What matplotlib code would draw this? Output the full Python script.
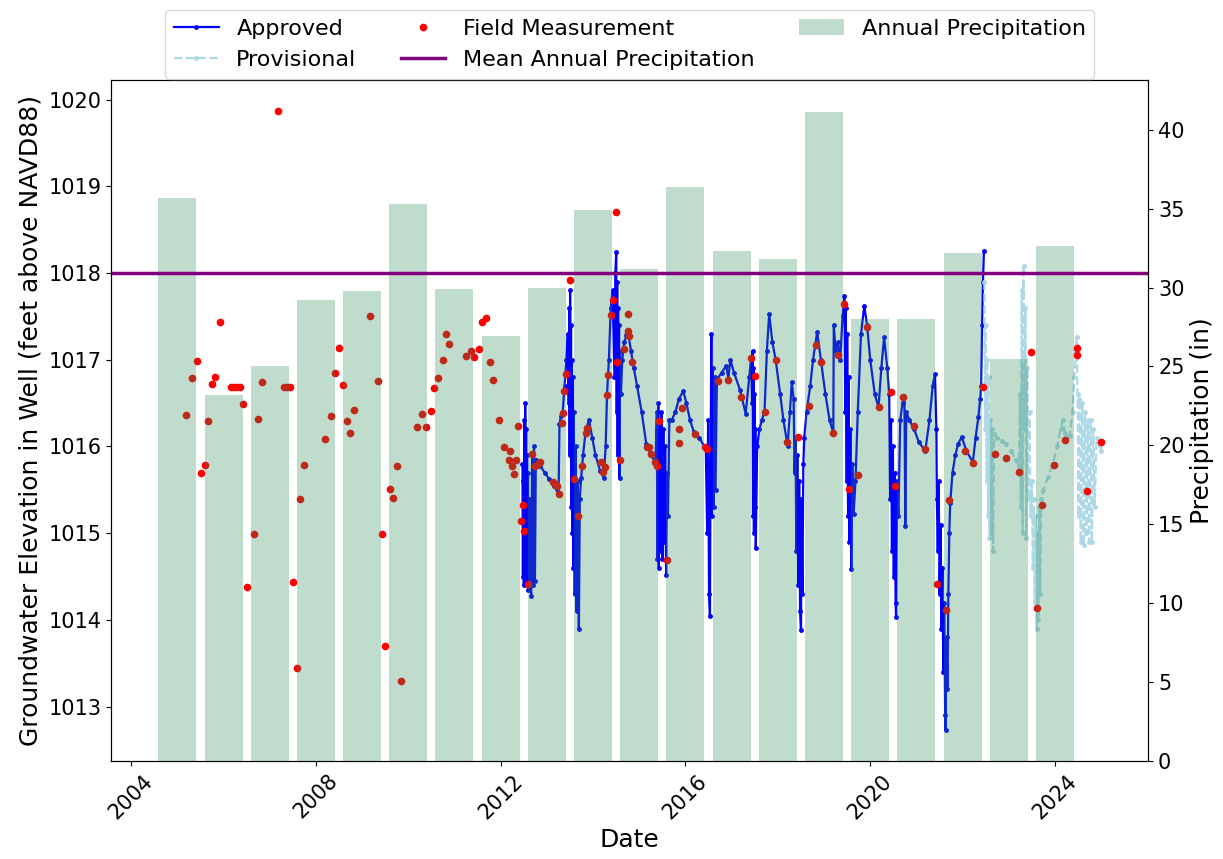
import numpy as np
import pandas as pd
import matplotlib
matplotlib.use('Agg')
import matplotlib.pyplot as plt
import matplotlib.dates as mdates

# --- data (decimal years / feet / inches) ---
approved_years = [
    2012.47, 2012.48, 2012.49, 2012.50, 2012.51, 2012.52, 2012.53, 2012.54, 2012.55, 2012.56,
    2012.57, 2012.58, 2012.59, 2012.60, 2012.62, 2012.64, 2012.66, 2012.68, 2012.70, 2012.72,
    2012.74, 2012.76, 2012.80, 2012.85, 2012.95, 2013.05, 2013.15, 2013.25, 2013.27, 2013.30,
    2013.34, 2013.38, 2013.42, 2013.45, 2013.47, 2013.48, 2013.49, 2013.50, 2013.51, 2013.52,
    2013.53, 2013.54, 2013.55, 2013.56, 2013.57, 2013.58, 2013.60, 2013.62, 2013.64, 2013.66,
    2013.69, 2013.71, 2013.74, 2013.78, 2013.84, 2013.91, 2013.98, 2014.05, 2014.15, 2014.23,
    2014.27, 2014.30, 2014.34, 2014.38, 2014.42, 2014.46, 2014.48, 2014.50, 2014.51, 2014.52,
    2014.53, 2014.54, 2014.55, 2014.56, 2014.57, 2014.58, 2014.60, 2014.63, 2014.67, 2014.72,
    2014.76, 2014.82, 2014.88, 2014.95, 2015.05, 2015.15, 2015.25, 2015.35, 2015.38, 2015.39,
    2015.41, 2015.42, 2015.44, 2015.46, 2015.48, 2015.50, 2015.52, 2015.54, 2015.56, 2015.58,
    2015.60, 2015.62, 2015.65, 2015.70, 2015.78, 2015.86, 2015.95, 2016.02, 2016.10, 2016.18,
    2016.30, 2016.44, 2016.47, 2016.49, 2016.51, 2016.53, 2016.54, 2016.56, 2016.57, 2016.59,
    2016.61, 2016.63, 2016.65, 2016.68, 2016.78, 2016.88, 2016.93, 2016.97, 2017.05, 2017.18,
    2017.30, 2017.38, 2017.42, 2017.44, 2017.45, 2017.46, 2017.47, 2017.48, 2017.49, 2017.50,
    2017.51, 2017.52, 2017.55, 2017.60, 2017.65, 2017.71, 2017.76, 2017.81, 2017.88, 2017.95,
    2018.05, 2018.12, 2018.21, 2018.26, 2018.30, 2018.34, 2018.36, 2018.38, 2018.40, 2018.42,
    2018.44, 2018.46, 2018.48, 2018.50, 2018.51, 2018.53, 2018.55, 2018.57, 2018.62, 2018.70,
    2018.76, 2018.85, 2018.93, 2019.03, 2019.12, 2019.20, 2019.21, 2019.25, 2019.30, 2019.35,
    2019.40, 2019.44, 2019.46, 2019.47, 2019.49, 2019.50, 2019.52, 2019.53, 2019.55, 2019.57,
    2019.59, 2019.61, 2019.64, 2019.68, 2019.73, 2019.80, 2019.87, 2019.93, 2020.00, 2020.10,
    2020.18, 2020.24, 2020.30, 2020.37, 2020.41, 2020.43, 2020.45, 2020.47, 2020.49, 2020.51,
    2020.53, 2020.55, 2020.56, 2020.58, 2020.61, 2020.65, 2020.70, 2020.74, 2020.76, 2020.78,
    2020.85, 2020.95, 2021.05, 2021.19, 2021.28, 2021.35, 2021.40, 2021.43, 2021.44, 2021.46,
    2021.48, 2021.50, 2021.52, 2021.54, 2021.56, 2021.58, 2021.60, 2021.62, 2021.63, 2021.65,
    2021.67, 2021.69, 2021.71, 2021.73, 2021.78, 2021.84, 2021.90, 2021.98, 2022.08, 2022.22,
    2022.28, 2022.34, 2022.38, 2022.40, 2022.42, 2022.44, 2022.46,
]
approved_elev = [
    1015.80, 1014.50, 1015.60, 1014.40, 1016.30, 1014.60, 1016.50, 1014.80, 1016.20, 1014.40,
    1015.90, 1014.50, 1015.70, 1014.35, 1015.40, 1014.40, 1014.28, 1015.90, 1014.40, 1016.00,
    1014.45, 1015.85, 1015.83, 1015.78, 1015.70, 1015.62, 1015.55, 1015.45, 1016.26, 1016.35,
    1016.40, 1016.70, 1017.00, 1017.30, 1016.50, 1017.60, 1015.90, 1017.80, 1016.20, 1017.40,
    1015.30, 1017.00, 1015.00, 1016.80, 1014.60, 1016.40, 1014.30, 1016.00, 1014.10, 1015.60,
    1013.90, 1015.40, 1015.64, 1015.90, 1016.20, 1016.30, 1016.10, 1015.90, 1015.72, 1015.64,
    1016.00, 1016.60, 1017.00, 1017.60, 1017.80, 1016.80, 1018.00, 1018.24, 1016.40, 1017.90,
    1015.90, 1017.60, 1016.60, 1017.40, 1015.64, 1017.10, 1016.60, 1017.00, 1017.20, 1017.28,
    1017.30, 1017.10, 1016.90, 1016.70, 1016.40, 1016.03, 1015.90, 1015.82, 1016.40, 1014.70,
    1016.50, 1014.60, 1016.30, 1014.80, 1016.40, 1014.70, 1016.20, 1014.90, 1016.00, 1014.52,
    1015.70, 1015.20, 1016.30, 1016.30, 1016.40, 1016.55, 1016.64, 1016.50, 1016.30, 1016.17,
    1016.10, 1015.97, 1015.00, 1016.30, 1014.30, 1014.05, 1015.50, 1017.30, 1015.20, 1016.90,
    1015.30, 1016.80, 1015.50, 1016.77, 1016.85, 1016.93, 1016.78, 1017.00, 1016.85, 1016.65,
    1016.38, 1016.80, 1017.03, 1016.50, 1017.10, 1015.20, 1016.90, 1015.00, 1016.60, 1015.30,
    1016.20, 1014.83, 1016.00, 1016.20, 1016.30, 1016.41, 1017.10, 1017.53, 1017.20, 1017.00,
    1016.60, 1016.30, 1016.01, 1016.40, 1016.74, 1016.55, 1015.70, 1016.10, 1014.80, 1015.90,
    1014.40, 1015.60, 1014.10, 1013.88, 1015.40, 1014.30, 1015.80, 1016.10, 1016.40, 1016.70,
    1017.00, 1017.32, 1017.00, 1016.60, 1016.30, 1016.16, 1017.40, 1017.10, 1017.20, 1017.00,
    1017.50, 1017.74, 1016.40, 1017.60, 1015.60, 1017.30, 1015.20, 1016.80, 1014.90, 1016.20,
    1014.59, 1015.80, 1015.22, 1015.60, 1016.40, 1017.30, 1017.62, 1017.40, 1017.00, 1016.60,
    1016.45, 1016.90, 1017.26, 1016.90, 1016.60, 1015.40, 1016.30, 1014.80, 1016.00, 1014.50,
    1015.70, 1014.20, 1014.03, 1015.60, 1015.20, 1016.30, 1016.50, 1016.57, 1015.08, 1016.40,
    1016.30, 1016.20, 1016.05, 1015.95, 1016.30, 1016.70, 1016.84, 1016.20, 1015.40, 1014.80,
    1015.60, 1014.30, 1015.10, 1013.90, 1014.60, 1013.40, 1014.20, 1012.90, 1012.73, 1013.80,
    1013.20, 1014.30, 1015.00, 1015.35, 1015.70, 1015.90, 1016.03, 1016.11, 1015.95, 1015.82,
    1016.10, 1016.34, 1016.55, 1016.70, 1017.40, 1017.90, 1018.25,
]

provisional_years = [
    2022.47, 2022.49, 2022.50, 2022.52, 2022.53, 2022.55, 2022.56, 2022.58, 2022.60, 2022.62,
    2022.64, 2022.66, 2022.68, 2022.75, 2022.85, 2022.93, 2023.05, 2023.15, 2023.22, 2023.24,
    2023.26, 2023.28, 2023.30, 2023.32, 2023.34, 2023.36, 2023.38, 2023.40, 2023.42, 2023.45,
    2023.47, 2023.50, 2023.52, 2023.54, 2023.56, 2023.58, 2023.60, 2023.62, 2023.64, 2023.66,
    2023.68, 2023.70, 2023.75, 2023.85, 2023.95, 2024.05, 2024.12, 2024.17, 2024.22, 2024.26,
    2024.32, 2024.38, 2024.42, 2024.46, 2024.47, 2024.49, 2024.51, 2024.53, 2024.56, 2024.59,
    2024.62, 2024.65, 2024.68, 2024.71, 2024.74, 2024.77, 2024.80, 2024.83, 2024.86, 2024.90,
    2024.97, 2025.00,
]
provisional_elev = [
    1017.90, 1016.20, 1017.40, 1015.60, 1017.00, 1015.20, 1016.80, 1014.95, 1016.30, 1015.00,
    1016.20, 1014.80, 1016.14, 1016.10, 1016.06, 1016.03, 1015.95, 1015.85, 1015.78, 1016.60,
    1015.30, 1017.80, 1015.00, 1018.08, 1016.20, 1017.60, 1014.95, 1016.90, 1015.40, 1016.40,
    1015.20, 1015.60, 1014.60, 1015.40, 1014.20, 1015.20, 1013.90, 1015.00, 1014.00, 1015.30,
    1014.30, 1015.40, 1015.50, 1015.65, 1015.80, 1016.00, 1016.20, 1016.30, 1016.15, 1016.11,
    1016.12, 1016.40, 1016.80, 1017.10, 1017.26, 1016.60, 1015.20, 1016.55, 1014.90, 1016.50,
    1014.86, 1016.40, 1015.00, 1016.30, 1014.90, 1016.30, 1014.90, 1016.20, 1015.30, 1016.10,
    1016.00, 1015.95,
]

field_years = [
    2005.19, 2005.32, 2005.43, 2005.50, 2005.59, 2005.65, 2005.74, 2005.82, 2005.92, 2006.15,
    2006.22, 2006.29, 2006.35, 2006.41, 2006.50, 2006.66, 2006.74, 2006.83, 2007.18, 2007.31,
    2007.37, 2007.43, 2007.50, 2007.58, 2007.66, 2007.73, 2008.20, 2008.32, 2008.41, 2008.49,
    2008.59, 2008.67, 2008.74, 2008.83, 2009.17, 2009.33, 2009.43, 2009.50, 2009.59, 2009.67,
    2009.75, 2009.84, 2010.19, 2010.30, 2010.38, 2010.49, 2010.56, 2010.65, 2010.74, 2010.81,
    2010.88, 2011.24, 2011.36, 2011.43, 2011.53, 2011.59, 2011.68, 2011.77, 2011.84, 2011.97,
    2012.08, 2012.17, 2012.21, 2012.25, 2012.29, 2012.33, 2012.37, 2012.43, 2012.49, 2012.50,
    2012.59, 2012.68, 2012.75, 2012.80, 2012.84, 2013.12, 2013.17, 2013.22, 2013.26, 2013.33,
    2013.35, 2013.37, 2013.42, 2013.50, 2013.59, 2013.68, 2013.75, 2013.84, 2013.87, 2014.16,
    2014.21, 2014.25, 2014.30, 2014.33, 2014.38, 2014.43, 2014.50, 2014.51, 2014.59, 2014.67,
    2014.75, 2014.76, 2014.78, 2014.85, 2015.17, 2015.20, 2015.25, 2015.34, 2015.39, 2015.42,
    2015.59, 2015.85, 2015.86, 2015.93, 2016.21, 2016.43, 2016.46, 2016.71, 2016.93, 2017.21,
    2017.42, 2017.50, 2017.71, 2017.95, 2018.20, 2018.43, 2018.68, 2018.82, 2018.94, 2019.20,
    2019.30, 2019.43, 2019.54, 2019.74, 2019.93, 2020.18, 2020.44, 2020.54, 2020.72, 2020.95,
    2021.19, 2021.45, 2021.63, 2021.71, 2022.05, 2022.22, 2022.45, 2022.69, 2022.94, 2023.22,
    2023.47, 2023.62, 2023.71, 2023.97, 2024.21, 2024.47, 2024.48, 2024.70, 2024.99,
]
field_elev = [
    1016.36, 1016.79, 1016.99, 1015.69, 1015.79, 1016.29, 1016.72, 1016.80, 1017.43, 1016.69,
    1016.69, 1016.69, 1016.69, 1016.49, 1014.38, 1014.99, 1016.32, 1016.74, 1019.87, 1016.69,
    1016.69, 1016.69, 1014.44, 1013.45, 1015.39, 1015.79, 1016.09, 1016.35, 1016.85, 1017.13,
    1016.71, 1016.29, 1016.15, 1016.42, 1017.50, 1016.76, 1014.99, 1013.70, 1015.51, 1015.41,
    1015.77, 1013.30, 1016.22, 1016.37, 1016.22, 1016.41, 1016.67, 1016.79, 1017.00, 1017.30,
    1017.18, 1017.04, 1017.10, 1017.03, 1017.12, 1017.44, 1017.48, 1016.97, 1016.77, 1016.31,
    1015.99, 1015.84, 1015.95, 1015.78, 1015.68, 1015.85, 1016.24, 1015.14, 1015.33, 1015.02,
    1014.41, 1015.91, 1015.77, 1015.80, 1015.82, 1015.59, 1015.57, 1015.55, 1015.45, 1016.27,
    1016.39, 1016.64, 1016.84, 1017.92, 1015.63, 1015.20, 1015.78, 1016.15, 1016.21, 1015.82,
    1015.71, 1015.76, 1016.59, 1016.82, 1017.52, 1017.69, 1018.70, 1016.97, 1015.84, 1017.12,
    1017.53, 1017.33, 1017.27, 1016.97, 1015.99, 1015.99, 1015.91, 1015.82, 1015.77, 1016.29,
    1014.69, 1016.20, 1016.04, 1016.44, 1016.14, 1015.99, 1015.97, 1016.76, 1016.77, 1016.57,
    1017.02, 1016.81, 1016.40, 1017.00, 1016.05, 1016.11, 1016.47, 1017.17, 1016.98, 1016.15,
    1017.06, 1017.64, 1015.51, 1015.67, 1017.38, 1016.45, 1016.63, 1015.55, 1016.57, 1016.24,
    1015.97, 1014.41, 1014.11, 1015.38, 1015.95, 1015.81, 1016.69, 1015.91, 1015.87, 1015.71,
    1017.09, 1014.14, 1015.33, 1015.79, 1016.08, 1017.13, 1017.06, 1015.49, 1016.05,
]

precip_years = list(range(2004, 2024))
precip_inches = [35.7, 23.2, 25.0, 29.2, 29.8, 35.3, 29.9, 26.9, 30.0, 34.9,
                 31.2, 36.4, 32.3, 31.8, 41.1, 28.0, 28.0, 32.2, 25.5, 32.6]


def to_dates(years):
    return [pd.Timestamp(int(y), 1, 1) + pd.Timedelta(days=(y - int(y)) * 365.25) for y in years]


approved_dates = to_dates(approved_years)
provisional_dates = to_dates(provisional_years)
field_dates = to_dates(field_years)
precip_dates = [pd.Timestamp(y, 12, 31) for y in precip_years]

fig, ax1 = plt.subplots(figsize=(12.23, 8.59), dpi=100)
fig.subplots_adjust(left=0.091, right=0.939, bottom=0.114, top=0.907)

l1, = ax1.plot(approved_dates, approved_elev, color='blue', marker='.', markersize=5,
               linewidth=1.6, label='Approved')
l2, = ax1.plot(provisional_dates, provisional_elev, color='lightblue', linestyle='--',
               marker='.', markersize=5, linewidth=1.6, label='Provisional')
l3, = ax1.plot(field_dates, field_elev, 'o', color='red', markersize=4.5,
               label='Field Measurement')
ax1.set_xlabel('Date', fontsize=18)
ax1.set_ylabel('Groundwater Elevation in Well (feet above NAVD88)', fontsize=18)
ax1.tick_params(axis='both', labelsize=15)
ax1.xaxis.set_major_locator(mdates.YearLocator(4))
ax1.xaxis.set_major_formatter(mdates.DateFormatter('%Y'))
plt.setp(ax1.get_xticklabels(), rotation=45)

ax2 = ax1.twinx()
bars = ax2.bar(precip_dates, precip_inches, width=300, color='seagreen', alpha=0.3,
               label='Annual Precipitation')
mean_line = ax2.axhline(np.mean(precip_inches), color='purple', linewidth=2.5,
                        label='Mean Annual Precipitation')
ax2.set_ylabel('Precipitation (in)', fontsize=18)
ax2.tick_params(axis='y', labelsize=15)

handles = [l1, l2, l3, mean_line, bars]
ax2.legend(handles, [h.get_label() for h in handles], loc='upper center',
           bbox_to_anchor=(0.5, 1.119), ncol=3, fontsize=16)

fig.savefig('out.png', dpi=100)
